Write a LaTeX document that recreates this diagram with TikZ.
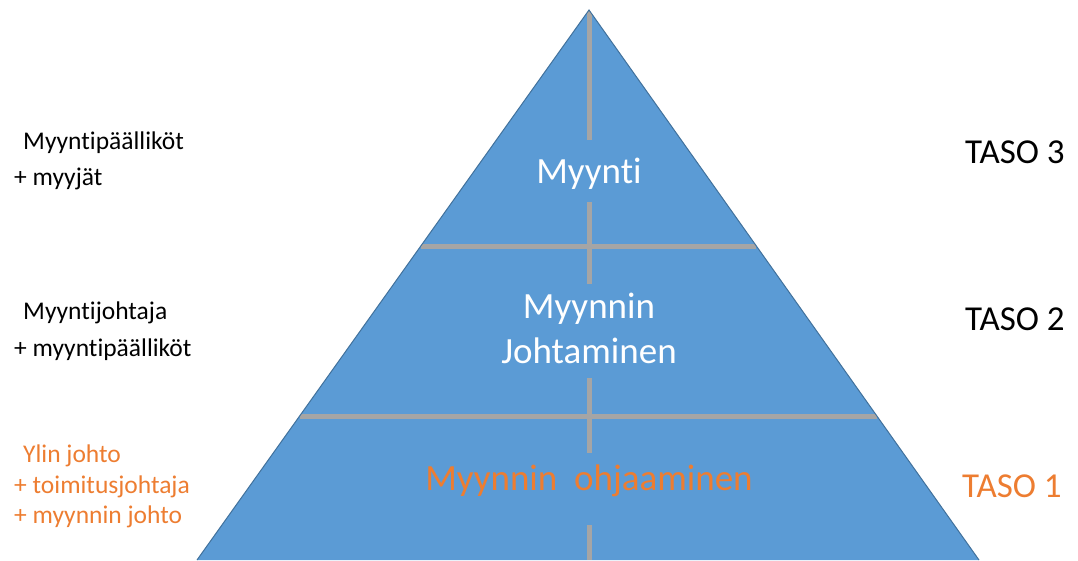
\documentclass[tikz,border=0pt]{standalone}
\usepackage{fontspec}
\setmainfont{Carlito}[Ligatures=NoCommon]
\usetikzlibrary{calc}
\definecolor{pyrblue}{HTML}{5B9BD5}
\definecolor{pyredge}{HTML}{41719C}
\definecolor{divgray}{HTML}{A5A5A5}
\definecolor{accent}{HTML}{ED7D31}
\begin{document}
\begin{tikzpicture}[x=1pt,y=-1pt,
  divider/.style={draw=divgray,line width=5pt},
  sidetext/.style={anchor=base west,inner sep=0pt,font=\fontsize{25.5}{30}\selectfont},
  leveltext/.style={anchor=base west,inner sep=0pt,font=\fontsize{35}{42}\selectfont},
  pyrtext/.style={anchor=base,inner sep=0pt,text=white,font=\fontsize{37}{44}\selectfont}]
\useasboundingbox (0,0) rectangle (1078,560);

% pyramid body
\coordinate (apex) at (589,10);
\coordinate (bl) at (197,560);
\coordinate (br) at (979,560);
\fill[pyrblue] (apex) -- (br) -- (bl) -- cycle;

% level dividers and central axis, kept inside the pyramid
\begin{scope}
  \clip (apex) -- (br) -- (bl) -- cycle;
  \coordinate (d1l) at ($(apex)!0.4291!(bl)$);
  \coordinate (d1r) at ($(apex)!0.4291!(br)$);
  \coordinate (d2l) at ($(apex)!0.7382!(bl)$);
  \coordinate (d2r) at ($(apex)!0.7382!(br)$);
  \draw[divider] (d1l) -- (d1r);
  \draw[divider] (d2l) -- (d2r);
  \coordinate (v1) at (589,140);
  \coordinate (v2) at (589,202);
  \coordinate (v3) at (589,284);
  \coordinate (v4) at (589,378);
  \coordinate (v5) at (589,453);
  \coordinate (v6) at (589,525);
  \coordinate (vb) at (589,560);
  \draw[divider] (apex) -- (v1);
  \draw[divider] (v2) -- (v3);
  \draw[divider] (v4) -- (v5);
  \draw[divider] (v6) -- (vb);
\end{scope}

% pyramid outline
\draw[pyredge,line width=1pt] (bl) -- (apex) -- (br);

% labels inside the pyramid
\node[pyrtext] (l3) at (589,183) {Myynti};
\node[pyrtext] (l2a) at (589,318) {Myynnin};
\node[pyrtext] (l2b) at (589,363) {Johtaminen};
\node[pyrtext,text=accent] (l1) at (589,490) {Myynnin\ \ ohjaaminen};

% roles on the left
\node[sidetext] (r3a) at (23,149) {Myyntipäälliköt};
\node[sidetext] (r3b) at (14,185) {+ myyjät};
\node[sidetext] (r2a) at (23,319) {Myyntijohtaja};
\node[sidetext] (r2b) at (14,356) {+ myyntipäälliköt};
\node[sidetext,text=accent] (r1a) at (23,462) {Ylin johto};
\node[sidetext,text=accent] (r1b) at (14,493) {+ toimitusjohtaja};
\node[sidetext,text=accent] (r1c) at (14,523) {+ myynnin johto};

% level names on the right
\node[leveltext] (t3) at (965,163) {TASO 3};
\node[leveltext] (t2) at (965,330) {TASO 2};
\node[leveltext,text=accent] (t1) at (962,497) {TASO 1};
\end{tikzpicture}
\end{document}
